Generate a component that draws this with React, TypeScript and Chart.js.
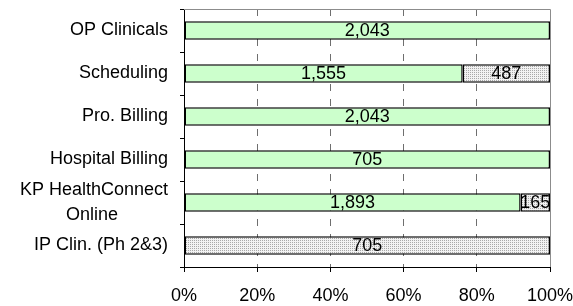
import React, { useEffect, useRef } from 'react';
import { Chart, registerables } from 'chart.js';

Chart.register(...registerables);

const categories: (string | string[])[] = [
  'OP Clinicals',
  'Scheduling',
  'Pro. Billing',
  'Hospital Billing',
  ['KP HealthConnect', 'Online          '],
  'IP Clin. (Ph 2&3)',
];
const greenCounts: (number | null)[] = [2043, 1555, 2043, 705, 1893, null];
const dottedCounts: (number | null)[] = [null, 487, null, null, 165, 705];
const xTickValues = [0, 20, 40, 60, 80, 100];

const FONT = "'Liberation Sans', Arial, sans-serif";

function toPercent(series: (number | null)[]): (number | null)[] {
  return series.map((v, i) => {
    if (v === null) return null;
    const total = (greenCounts[i] || 0) + (dottedCounts[i] || 0);
    return (v / total) * 100;
  });
}

function makeDotPattern(): CanvasPattern | string {
  const c = document.createElement('canvas');
  c.width = 2;
  c.height = 2;
  const g = c.getContext('2d');
  if (!g) return '#ddd';
  g.fillStyle = '#f2f2f2';
  g.fillRect(0, 0, 2, 2);
  g.fillStyle = '#a8a8a8';
  g.fillRect(0, 0, 1, 1);
  const p = g.createPattern(c, 'repeat');
  return p || '#ddd';
}

const labelPlugin = {
  id: 'segLabels',
  afterDatasetsDraw(chart: any) {
    const ctx = chart.ctx;
    const counts = [greenCounts, dottedCounts];
    ctx.save();
    ctx.font = `18px ${FONT}`;
    ctx.fillStyle = '#000';
    ctx.textAlign = 'center';
    ctx.textBaseline = 'middle';
    chart.data.datasets.forEach((_: any, di: number) => {
      const meta = chart.getDatasetMeta(di);
      meta.data.forEach((el: any, i: number) => {
        const v = counts[di][i];
        if (v === null || v === undefined) return;
        const { x, base, y } = el.getProps(['x', 'base', 'y'], true);
        ctx.fillText(v.toLocaleString('en-US'), (x + base) / 2, y + 1);
      });
    });
    ctx.restore();
  },
};

const framePlugin = {
  id: 'frame',
  beforeDatasetsDraw(chart: any) {
    const { ctx, chartArea } = chart;
    ctx.save();
    ctx.strokeStyle = '#8c8c8c';
    ctx.lineWidth = 1;
    ctx.beginPath();
    ctx.moveTo(chartArea.left, Math.round(chartArea.top) + 0.5);
    ctx.lineTo(Math.round(chartArea.right) + 0.5, Math.round(chartArea.top) + 0.5);
    ctx.lineTo(Math.round(chartArea.right) + 0.5, chartArea.bottom);
    ctx.stroke();
    ctx.restore();
  },
};

export default function App() {
  const ref = useRef<HTMLCanvasElement | null>(null);

  useEffect(() => {
    document.body.style.margin = '0';
    if (!ref.current) return;
    const dots = makeDotPattern();
    const chart = new Chart(ref.current, {
      type: 'bar',
      data: {
        labels: categories as any,
        datasets: [
          {
            label: 'Green',
            data: toPercent(greenCounts) as any,
            backgroundColor: '#ccffcc',
            borderColor: '#000',
            borderWidth: 1.5,
            borderSkipped: false,
            barPercentage: 0.43,
            categoryPercentage: 1,
          },
          {
            label: 'Dotted',
            data: toPercent(dottedCounts) as any,
            backgroundColor: dots as any,
            borderColor: '#000',
            borderWidth: 1.5,
            borderSkipped: false,
            barPercentage: 0.43,
            categoryPercentage: 1,
          },
        ],
      },
      options: {
        indexAxis: 'y',
        responsive: false,
        animation: false,
        events: [],
        layout: { padding: { top: 9, right: 23, left: 0, bottom: 0 } },
        plugins: {
          legend: { display: false },
          tooltip: { enabled: false },
        },
        scales: {
          x: {
            stacked: true,
            min: 0,
            max: 100,
            afterBuildTicks: (scale: any) => {
              scale.ticks = xTickValues.map((v) => ({ value: v }));
            },
            afterFit: (scale: any) => {
              scale.height = 39;
              scale.paddingLeft = 0;
              scale.paddingRight = 0;
            },
            ticks: {
              color: '#000',
              font: { family: FONT, size: 18 },
              padding: 13,
              maxRotation: 0,
              autoSkip: false,
              callback: (v: any) => `${v}%`,
            },
            grid: {
              color: (c: any) =>
                c.tick && c.tick.value > 0 && c.tick.value < 100 ? '#6e6e6e' : 'rgba(0,0,0,0)',
              lineWidth: 1,
              drawTicks: true,
              tickLength: 5,
              tickColor: '#000',
              tickWidth: 1,
            },
            border: { display: true, color: '#000', width: 1, dash: [7, 8] },
          },
          y: {
            stacked: true,
            afterFit: (scale: any) => {
              scale.width = 184;
              scale.paddingTop = 0;
              scale.paddingBottom = 0;
            },
            ticks: {
              color: '#000',
              font: { family: FONT, size: 18, lineHeight: 1.42 },
              padding: 12,
              autoSkip: false,
            },
            grid: {
              drawOnChartArea: false,
              drawTicks: true,
              tickLength: 4,
              tickColor: '#000',
              offset: true,
            },
            border: { display: true, color: '#000', width: 1 },
          },
        },
      },
      plugins: [framePlugin, labelPlugin],
    });
    return () => chart.destroy();
  }, []);

  return (
    <div style={{ width: 573, height: 306 }}>
      <canvas ref={ref} width={573} height={306} style={{ display: 'block' }} />
    </div>
  );
}
